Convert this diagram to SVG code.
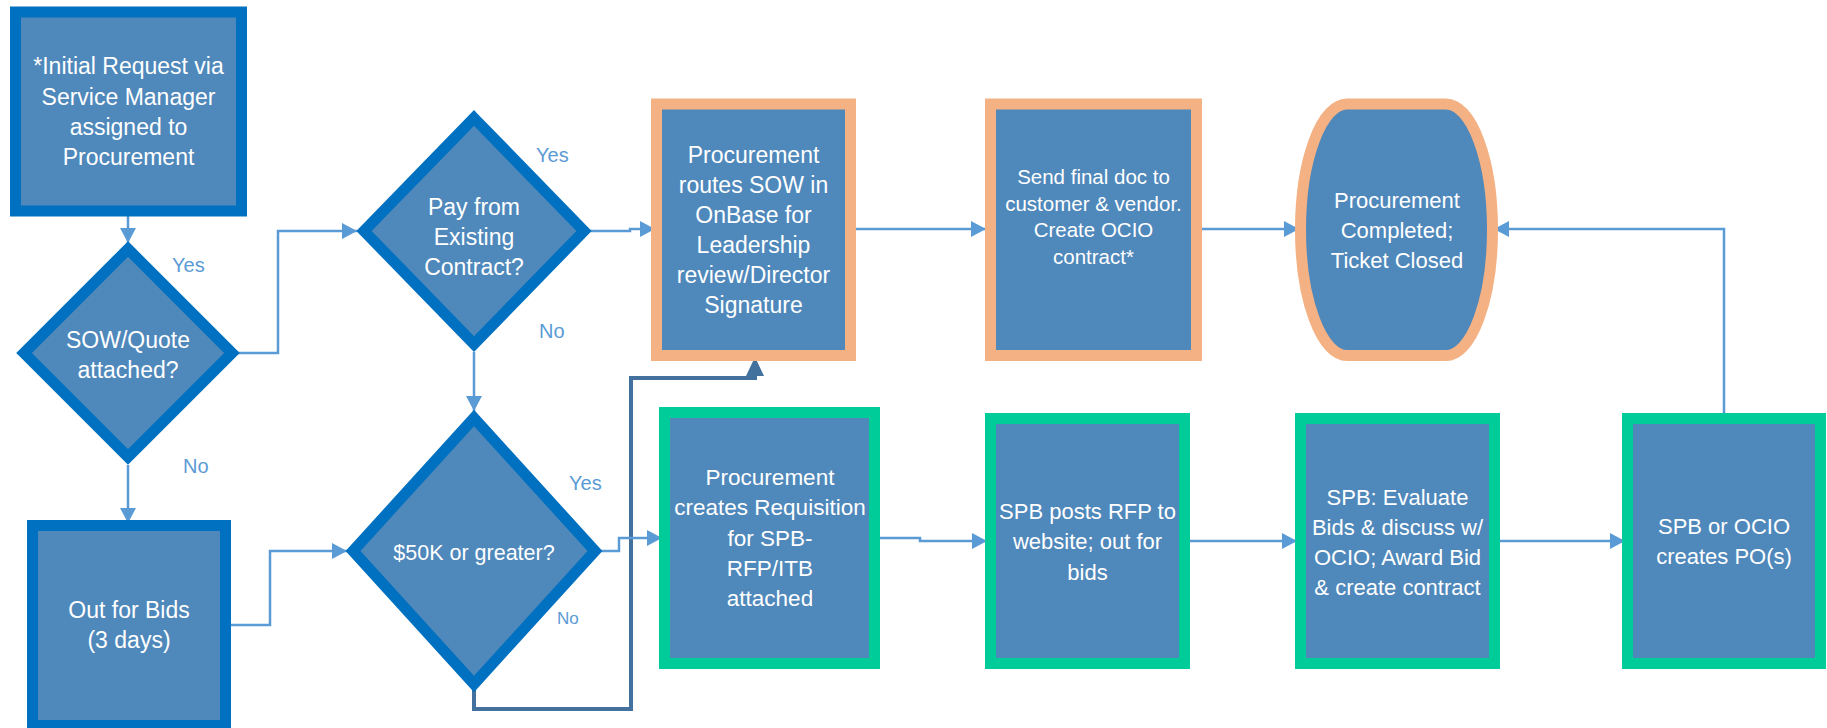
<svg xmlns="http://www.w3.org/2000/svg" width="1827" height="728" viewBox="0 0 1827 728">
<defs>
<style>
.node{fill:#4F88BB;stroke-width:11;stroke-linejoin:miter}
.blue{stroke:#0070C0}
.orange{stroke:#F4B183}
.green{stroke:#00CC99}
.t{font-family:"Liberation Sans",Arial,sans-serif;font-size:23px;fill:#FFFFFF;text-anchor:middle}
.lbl{font-family:"Liberation Sans",Arial,sans-serif;font-size:20px;fill:#5B9BD5}
.conn{fill:none;stroke:#5B9BD5;stroke-width:2.5}
.dark{fill:none;stroke:#41719C;stroke-width:4}
</style>
<marker id="arr" markerUnits="userSpaceOnUse" markerWidth="15" markerHeight="16" viewBox="0 0 15 16" refX="15" refY="8" orient="auto">
<path d="M0,0 L15,8 L0,16 Z" fill="#5B9BD5"/>
</marker>
<marker id="arrDark" markerUnits="userSpaceOnUse" markerWidth="19" markerHeight="18" viewBox="0 0 19 18" refX="19" refY="9" orient="auto">
<path d="M0,0 L19,9 L0,18 Z" fill="#41719C"/>
</marker>
</defs>
<rect width="1827" height="728" fill="#FFFFFF"/>

<g id="connectors">
<path class="conn" d="M128,216 V243" marker-end="url(#arr)"/>
<path class="conn" d="M238,353 H278 V231 H357" marker-end="url(#arr)"/>
<path class="conn" d="M128,465 V523" marker-end="url(#arr)"/>
<path class="conn" d="M224,625 H270 V551 H347" marker-end="url(#arr)"/>
<path class="conn" d="M474,352 V411" marker-end="url(#arr)"/>
<path class="conn" d="M590,231 H630 V229 H655" marker-end="url(#arr)"/>
<path class="dark" d="M474,690 V709 H631 V378 H755 V357" marker-end="url(#arrDark)"/>
<path class="conn" d="M601,551 H619 V538 H662" marker-end="url(#arr)"/>
<path class="conn" d="M850,229 H986" marker-end="url(#arr)"/>
<path class="conn" d="M1195,229 H1299" marker-end="url(#arr)"/>
<path class="conn" d="M874,538 H920 V541 H987" marker-end="url(#arr)"/>
<path class="conn" d="M1184,541 H1297" marker-end="url(#arr)"/>
<path class="conn" d="M1494,541 H1625" marker-end="url(#arr)"/>
<path class="conn" d="M1724,420 V229 H1494" marker-end="url(#arr)"/>
</g>

<g id="labels">
<text class="lbl" x="172" y="272">Yes</text>
<text class="lbl" x="183" y="473">No</text>
<text class="lbl" x="536" y="162">Yes</text>
<text class="lbl" x="539" y="338">No</text>
<text class="lbl" x="569" y="490">Yes</text>
<text class="lbl" x="557" y="624" style="font-size:17px">No</text>
</g>

<g id="n_initial">
<rect class="node blue" x="15.5" y="12" width="226" height="199"/>
<text class="t" x="128.5" y="74">*Initial Request via</text>
<text class="t" x="128.5" y="104.5">Service Manager</text>
<text class="t" x="128.5" y="134.5">assigned to</text>
<text class="t" x="128.5" y="164.5">Procurement</text>
</g>

<g id="n_sow">
<polygon class="node blue" points="128,249 232,353 128,457 24,353"/>
<text class="t" x="128" y="348">SOW/Quote</text>
<text class="t" x="128" y="378">attached?</text>
</g>

<g id="n_outforbids">
<rect class="node blue" x="32.5" y="525.5" width="193" height="200"/>
<text class="t" x="129" y="617.5">Out for Bids</text>
<text class="t" x="129" y="647.5">(3 days)</text>
</g>

<g id="n_pay">
<polygon class="node blue" points="474,118 584,231 474,344 364,231"/>
<text class="t" x="474" y="215">Pay from</text>
<text class="t" x="474" y="245">Existing</text>
<text class="t" x="474" y="275">Contract?</text>
</g>

<g id="n_50k">
<polygon class="node blue" points="474,418 595,551 474,684 353,551"/>
<text class="t" x="474" y="559.5" style="font-size:21.5px">$50K or greater?</text>
</g>

<g id="n_onbase">
<rect class="node orange" x="656.5" y="104" width="194" height="251.5"/>
<text class="t" x="753.5" y="162.5">Procurement</text>
<text class="t" x="753.5" y="192.5">routes SOW in</text>
<text class="t" x="753.5" y="223">OnBase for</text>
<text class="t" x="753.5" y="253">Leadership</text>
<text class="t" x="753.5" y="283">review/Director</text>
<text class="t" x="753.5" y="313">Signature</text>
</g>

<g id="n_send">
<rect class="node orange" x="990.5" y="104" width="206" height="251.5"/>
<text class="t" x="1093.5" y="183.5" style="font-size:20.5px">Send final doc to</text>
<text class="t" x="1093.5" y="210.5" style="font-size:20.5px">customer &amp; vendor.</text>
<text class="t" x="1093.5" y="237" style="font-size:20.5px">Create OCIO</text>
<text class="t" x="1093.5" y="264" style="font-size:20.5px">contract*</text>
</g>

<g id="n_completed">
<path class="node orange" d="M1347,104 H1446 A46.5,125.75 0 0 1 1492.5,229.75 A46.5,125.75 0 0 1 1446,355.5 H1347 A46.5,125.75 0 0 1 1300.5,229.75 A46.5,125.75 0 0 1 1347,104 Z"/>
<text class="t" x="1397" y="208" style="font-size:22px">Procurement</text>
<text class="t" x="1397" y="238" style="font-size:22px">Completed;</text>
<text class="t" x="1397" y="268" style="font-size:22px">Ticket Closed</text>
</g>

<g id="n_requisition">
<rect class="node green" x="664.5" y="412.5" width="210" height="251"/>
<text class="t" x="770" y="485" style="font-size:22.5px">Procurement</text>
<text class="t" x="770" y="515" style="font-size:22.5px">creates Requisition</text>
<text class="t" x="770" y="545.5" style="font-size:22.5px">for SPB-</text>
<text class="t" x="770" y="575.5" style="font-size:22.5px">RFP/ITB</text>
<text class="t" x="770" y="606" style="font-size:22.5px">attached</text>
</g>

<g id="n_spbposts">
<rect class="node green" x="990.5" y="418.5" width="194" height="245"/>
<text class="t" x="1087.5" y="519" style="font-size:22px">SPB posts RFP to</text>
<text class="t" x="1087.5" y="549" style="font-size:22px">website; out for</text>
<text class="t" x="1087.5" y="579.5" style="font-size:22px">bids</text>
</g>

<g id="n_evaluate">
<rect class="node green" x="1300.5" y="418.5" width="194" height="245"/>
<text class="t" x="1397.5" y="505" style="font-size:22px">SPB: Evaluate</text>
<text class="t" x="1397.5" y="535" style="font-size:22px">Bids &amp; discuss w/</text>
<text class="t" x="1397.5" y="565" style="font-size:22px">OCIO; Award Bid</text>
<text class="t" x="1397.5" y="595" style="font-size:22px">&amp; create contract</text>
</g>

<g id="n_po">
<rect class="node green" x="1627.5" y="418.5" width="193" height="245"/>
<text class="t" x="1724" y="534" style="font-size:22px">SPB or OCIO</text>
<text class="t" x="1724" y="564" style="font-size:22px">creates PO(s)</text>
</g>
</svg>
